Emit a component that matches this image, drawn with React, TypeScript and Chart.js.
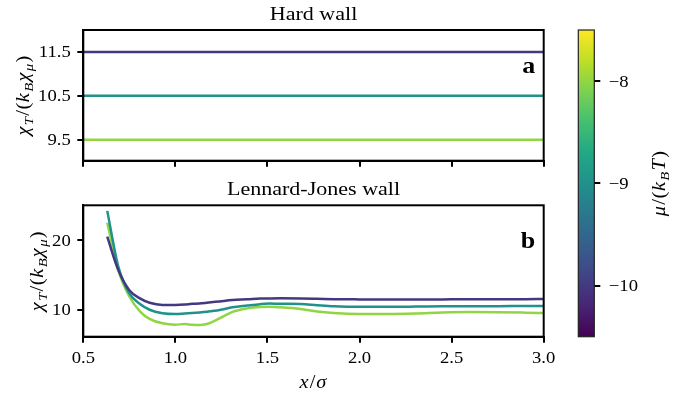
import React, { useEffect, useRef } from "react";
import { Chart, registerables } from "chart.js";

Chart.register(...registerables);

// ---------------- data ----------------
const muValues = [-10, -9, -8];
const colorbarMin = -10.5;
const colorbarMax = -7.5;
const colorbarTicks = [-10, -9, -8];

const hardWallX = [0.5, 3.0];
const hardWallLevels = [11.5, 10.5, 9.5];
const hardWallYTicks = [9.5, 10.5, 11.5];

const ljX = [0.63, 0.69, 0.75, 0.81, 0.86, 0.93, 1.0, 1.05, 1.09, 1.13, 1.17, 1.24, 1.31, 1.39, 1.46, 1.51, 1.57, 1.68, 1.77, 1.86, 2.0, 2.15, 2.3, 2.45, 2.6, 2.75, 2.9, 3.0];
const ljMuMinus10 = [20.5, 15.7, 12.8, 11.6, 11.0, 10.7, 10.7, 10.75, 10.85, 10.9, 11.0, 11.2, 11.4, 11.5, 11.6, 11.63, 11.65, 11.63, 11.58, 11.52, 11.49, 11.48, 11.48, 11.49, 11.5, 11.5, 11.52, 11.55];
const ljMuMinus9 = [24.2, 16.2, 12.35, 10.8, 10.0, 9.5, 9.38, 9.45, 9.52, 9.6, 9.7, 9.95, 10.35, 10.6, 10.8, 10.88, 10.85, 10.82, 10.65, 10.5, 10.42, 10.42, 10.45, 10.5, 10.52, 10.52, 10.53, 10.53];
const ljMuMinus8 = [22.5, 15.7, 11.9, 9.7, 8.7, 8.05, 7.85, 7.95, 7.85, 7.8, 7.95, 8.76, 9.7, 10.2, 10.4, 10.43, 10.35, 10.1, 9.75, 9.55, 9.4, 9.38, 9.45, 9.6, 9.67, 9.65, 9.58, 9.52];
const ljSeries = [ljMuMinus10, ljMuMinus9, ljMuMinus8];
const ljYTicks = [10, 20];

const xTicks = [0.5, 1.0, 1.5, 2.0, 2.5, 3.0];

const titleTop = "Hard wall";
const titleBottom = "Lennard-Jones wall";
const panelLetters = ["a", "b"];

// ---------------- styles ----------------
const FONT = "'Liberation Serif', 'Times New Roman', serif";
const STRETCH = 1.13; // Computer-Modern-like widening of the Times glyphs
const TICK_SIZE = 16.5;
const LABEL_SIZE = 18;
const TITLE_SIZE = 19.5;
const LETTER_SIZE = 23;

const viridisStops = ["#440154", "#482475", "#414487", "#355f8d", "#2a788e", "#21918c", "#22a884", "#44bf70", "#7ad151", "#bddf26", "#fde725"];

function hexToRgb(h: string) {
  const n = parseInt(h.slice(1), 16);
  return [(n >> 16) & 255, (n >> 8) & 255, n & 255];
}
function viridis(t: number) {
  const c = Math.max(0, Math.min(1, t)) * (viridisStops.length - 1);
  const i = Math.min(Math.floor(c), viridisStops.length - 2);
  const f = c - i;
  const a = hexToRgb(viridisStops[i]);
  const b = hexToRgb(viridisStops[i + 1]);
  const m = a.map((v, k) => Math.round(v + (b[k] - v) * f));
  return `rgb(${m[0]},${m[1]},${m[2]})`;
}
const muColor = (mu: number) => viridis((mu - colorbarMin) / (colorbarMax - colorbarMin));

type Seg = { t: string; it?: boolean; sub?: boolean };

const yLabelSegs: Seg[] = [
  { t: "χ", it: true }, { t: "T", it: true, sub: true }, { t: "/" }, { t: "(" },
  { t: "k", it: true }, { t: "B", it: true, sub: true }, { t: "χ", it: true }, { t: "μ", it: true, sub: true }, { t: ")" },
];
const xLabelSegs: Seg[] = [{ t: "x", it: true }, { t: "/" }, { t: "σ", it: true }];
const cbLabelSegs: Seg[] = [
  { t: "μ", it: true }, { t: "/" }, { t: "(" }, { t: "k", it: true }, { t: "B", it: true, sub: true }, { t: "T", it: true }, { t: ")" },
];

function drawMath(ctx: CanvasRenderingContext2D, segs: Seg[], x: number, y: number, size: number, rotate: boolean) {
  ctx.save();
  ctx.translate(x, y);
  if (rotate) ctx.rotate(-Math.PI / 2);
  ctx.scale(STRETCH, 1);
  const fontFor = (s: Seg) => `${s.it ? "italic " : ""}${s.sub ? Math.round(size * 0.7) : size}px ${FONT}`;
  let total = 0;
  const widths = segs.map((s) => {
    ctx.font = fontFor(s);
    const w = ctx.measureText(s.t).width + size * (s.sub ? 0.06 : s.it ? 0.07 : 0.03);
    total += w;
    return w;
  });
  let cx = -total / 2;
  ctx.textAlign = "left";
  ctx.textBaseline = "alphabetic";
  ctx.fillStyle = "#000";
  segs.forEach((s, i) => {
    ctx.font = fontFor(s);
    ctx.fillText(s.t, cx, size * 0.33 + (s.sub ? size * 0.22 : 0));
    cx += widths[i];
  });
  ctx.restore();
}

function drawText(ctx: CanvasRenderingContext2D, text: string, x: number, y: number, font: string, align: CanvasTextAlign) {
  ctx.save();
  ctx.translate(x, y);
  ctx.scale(STRETCH, 1);
  ctx.font = font;
  ctx.fillStyle = "#000";
  ctx.textAlign = align;
  ctx.textBaseline = "alphabetic";
  ctx.fillText(text, 0, 0);
  ctx.restore();
}

type LabelSpec = { axis: string; side: "left" | "bottom" | "right"; offset: number; fmt: (v: number) => string };

function drawTickLabels(chart: any, specs: LabelSpec[]) {
  const { ctx, chartArea } = chart;
  const font = `${TICK_SIZE}px ${FONT}`;
  const mid = TICK_SIZE * 0.33;
  specs.forEach((sp) => {
    const sc = chart.scales[sp.axis];
    sc.ticks.forEach((t: any) => {
      const label = sp.fmt(t.value);
      const p = sc.getPixelForValue(t.value);
      if (sp.side === "left") drawText(ctx, label, chartArea.left - sp.offset, p + mid, font, "right");
      else if (sp.side === "right") drawText(ctx, label, chartArea.right + sp.offset, p + mid, font, "left");
      else drawText(ctx, label, p, chartArea.bottom + sp.offset + mid, font, "center");
    });
  });
}

function axisCommon(ticksArr: number[]) {
  return {
    type: "linear" as const,
    afterBuildTicks: (ax: any) => {
      ax.ticks = ticksArr.map((v) => ({ value: v }));
    },
    ticks: {
      color: "rgba(0,0,0,0)",
      font: { family: FONT, size: TICK_SIZE },
      maxRotation: 0,
      autoSkip: false,
    },
    grid: { display: true, drawOnChartArea: false, drawTicks: true, tickLength: 6, color: "#000", lineWidth: 2 },
    border: { display: true, color: "#000", width: 2 },
  };
}

function panelPlugin(title: string, letter: string, ylabelX: number, showXLabel: boolean, specs: LabelSpec[]) {
  return {
    id: "panelDecor_" + letter,
    afterDraw(chart: any) {
      const { ctx, chartArea } = chart;
      const { left, top, right, bottom } = chartArea;
      ctx.save();
      ctx.strokeStyle = "#000";
      ctx.lineWidth = 2;
      ctx.strokeRect(left, top, right - left, bottom - top);
      ctx.restore();
      drawText(ctx, title, (left + right) / 2, top - 10, `${TITLE_SIZE}px ${FONT}`, "center");
      drawText(ctx, letter, right - 8.5, top + 42.5, `bold ${LETTER_SIZE}px ${FONT}`, "right");
      drawTickLabels(chart, specs);
      drawMath(ctx, yLabelSegs, ylabelX, (top + bottom) / 2, LABEL_SIZE, true);
      if (showXLabel) drawMath(ctx, xLabelSegs, (left + right) / 2, bottom + 45, LABEL_SIZE, false);
    },
  };
}

export default function App() {
  const topRef = useRef<HTMLCanvasElement>(null);
  const botRef = useRef<HTMLCanvasElement>(null);
  const cbRef = useRef<HTMLCanvasElement>(null);

  useEffect(() => {
    const charts: Chart[] = [];

    // ---- top panel: hard wall ----
    charts.push(
      new Chart(topRef.current!, {
        type: "line",
        data: {
          datasets: muValues.map((mu, i) => ({
            data: hardWallX.map((x) => ({ x, y: hardWallLevels[i] })),
            borderColor: muColor(mu),
            borderWidth: 2.5,
            pointRadius: 0,
            tension: 0,
          })),
        },
        options: {
          animation: false,
          responsive: false,
          layout: { padding: { left: 0, right: 16.3, top: 30, bottom: 0 } },
          plugins: { legend: { display: false }, tooltip: { enabled: false }, title: { display: false } },
          scales: {
            x: { ...axisCommon(xTicks), min: 0.5, max: 3.0, afterFit: (ax: any) => { ax.height = 14.3; } },
            y: { ...axisCommon(hardWallYTicks), min: 9.02, max: 12.0, afterFit: (ax: any) => { ax.width = 83.3; } },
          } as any,
        },
        plugins: [
          panelPlugin(titleTop, panelLetters[0], 23, false, [
            { axis: "y", side: "left", offset: 12.6, fmt: (v) => v.toFixed(1) },
          ]),
        ],
      })
    );

    // ---- bottom panel: Lennard-Jones wall ----
    charts.push(
      new Chart(botRef.current!, {
        type: "line",
        data: {
          datasets: muValues.map((mu, i) => ({
            data: ljX.map((x, k) => ({ x, y: ljSeries[i][k] })),
            borderColor: muColor(mu),
            borderWidth: 2.5,
            pointRadius: 0,
            cubicInterpolationMode: "monotone" as const,
          })),
        },
        options: {
          animation: false,
          responsive: false,
          layout: { padding: { left: 0, right: 16.3, top: 30.3, bottom: 0 } },
          plugins: { legend: { display: false }, tooltip: { enabled: false }, title: { display: false } },
          scales: {
            x: { ...axisCommon(xTicks), min: 0.5, max: 3.0, afterFit: (ax: any) => { ax.height = 59.3; } },
            y: { ...axisCommon(ljYTicks), min: 6.13, max: 25.0, afterFit: (ax: any) => { ax.width = 83.3; } },
          } as any,
        },
        plugins: [
          panelPlugin(titleBottom, panelLetters[1], 37, true, [
            { axis: "y", side: "left", offset: 12.6, fmt: (v) => String(v) },
            { axis: "x", side: "bottom", offset: 20.8, fmt: (v) => v.toFixed(1) },
          ]),
        ],
      })
    );

    // ---- colorbar ----
    const cbPlugin = {
      id: "colorbarFill",
      beforeDraw(chart: any) {
        const { ctx, chartArea } = chart;
        const { left, top, right, bottom } = chartArea;
        const g = ctx.createLinearGradient(0, bottom, 0, top);
        viridisStops.forEach((c, i) => g.addColorStop(i / (viridisStops.length - 1), c));
        ctx.save();
        ctx.fillStyle = g;
        ctx.fillRect(left, top, right - left, bottom - top);
        ctx.restore();
      },
      afterDraw(chart: any) {
        const { ctx, chartArea } = chart;
        const { left, top, right, bottom } = chartArea;
        ctx.save();
        ctx.strokeStyle = "#222";
        ctx.lineWidth = 1.2;
        ctx.strokeRect(left, top, right - left, bottom - top);
        ctx.restore();
        drawTickLabels(chart, [{ axis: "y", side: "right", offset: 14.5, fmt: (v) => "\u2212" + Math.abs(v) }]);
        drawMath(ctx, cbLabelSegs, 99, (top + bottom) / 2, LABEL_SIZE, true);
      },
    };
    charts.push(
      new Chart(cbRef.current!, {
        type: "scatter",
        data: { datasets: [{ data: [] }] },
        options: {
          animation: false,
          responsive: false,
          layout: { padding: { left: 18.3, right: 0, top: 30, bottom: 59.3 } },
          plugins: { legend: { display: false }, tooltip: { enabled: false } },
          scales: {
            x: { display: false, min: 0, max: 1 },
            y: {
              ...axisCommon(colorbarTicks),
              position: "right",
              min: colorbarMin,
              max: colorbarMax,
              border: { display: false },
              afterFit: (ax: any) => { ax.width = 89.7; },
            },
          } as any,
        },
        plugins: [cbPlugin],
      })
    );

    return () => charts.forEach((c) => c.destroy());
  }, []);

  return (
    <div style={{ position: "fixed", left: 0, top: 0, width: 684, height: 396, background: "#fff" }}>
      <canvas ref={topRef} width={560} height={175} style={{ position: "absolute", left: 0, top: 0 }} />
      <canvas ref={botRef} width={560} height={221} style={{ position: "absolute", left: 0, top: 175 }} />
      <canvas ref={cbRef} width={124} height={396} style={{ position: "absolute", left: 560, top: 0 }} />
    </div>
  );
}
